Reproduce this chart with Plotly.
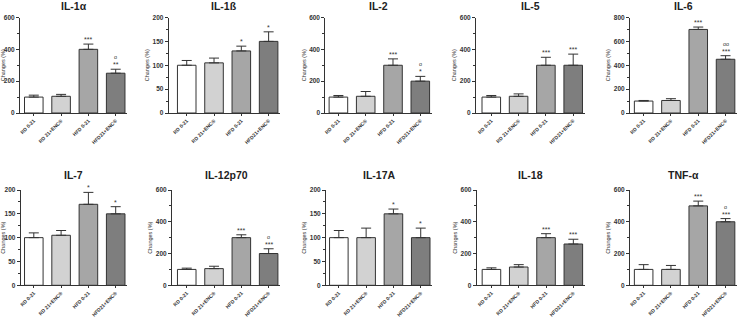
import plotly.graph_objects as go

W, H = 740, 318

groups = ["RD 0-21", "RD 21+ENC®", "HFD 0-21", "HFD21+ENC®"]
titles = ["IL-1α", "IL-1ß", "IL-2", "IL-5", "IL-6",
          "IL-7", "IL-12p70", "IL-17A", "IL-18", "TNF-α"]

# mean values (% change) per cytokine
il1a_mean = [100, 105, 400, 250]
il1b_mean = [100, 105, 130, 150]
il2_mean = [100, 105, 300, 200]
il5_mean = [100, 105, 300, 300]
il6_mean = [100, 105, 700, 450]
il7_mean = [100, 105, 170, 150]
il12_mean = [100, 105, 300, 200]
il17_mean = [100, 100, 150, 100]
il18_mean = [100, 115, 300, 260]
tnf_mean = [100, 100, 500, 400]

# upper error bars
il1a_err = [12, 12, 33, 25]
il1b_err = [10, 10, 10, 20]
il2_err = [10, 30, 40, 30]
il5_err = [10, 15, 50, 70]
il6_err = [5, 15, 20, 30]
il7_err = [10, 10, 25, 15]
il12_err = [8, 15, 18, 30]
il17_err = [15, 20, 10, 20]
il18_err = [10, 15, 25, 30]
tnf_err = [30, 25, 30, 20]

# significance marks (vs RD) and (vs HFD)
il1a_sig = ["", "", "***", "**"]
il1b_sig = ["", "", "*", "*"]
il2_sig = ["", "", "***", "*"]
il5_sig = ["", "", "***", "***"]
il6_sig = ["", "", "***", "***"]
il7_sig = ["", "", "*", "*"]
il12_sig = ["", "", "***", "***"]
il17_sig = ["", "", "*", "*"]
il18_sig = ["", "", "***", "***"]
tnf_sig = ["", "", "***", "***"]

il1a_sig2 = ["", "", "", "o"]
il1b_sig2 = ["", "", "", ""]
il2_sig2 = ["", "", "", "o"]
il5_sig2 = ["", "", "", ""]
il6_sig2 = ["", "", "", "oo"]
il7_sig2 = ["", "", "", ""]
il12_sig2 = ["", "", "", "o"]
il17_sig2 = ["", "", "", ""]
il18_sig2 = ["", "", "", ""]
tnf_sig2 = ["", "", "", "o"]

y_max = [600, 200, 600, 600, 800, 200, 600, 200, 600, 600]
y_dtick = [200, 50, 200, 200, 200, 50, 200, 50, 200, 200]

means = [il1a_mean, il1b_mean, il2_mean, il5_mean, il6_mean,
         il7_mean, il12_mean, il17_mean, il18_mean, tnf_mean]
errs = [il1a_err, il1b_err, il2_err, il5_err, il6_err,
        il7_err, il12_err, il17_err, il18_err, tnf_err]
sigs = [il1a_sig, il1b_sig, il2_sig, il5_sig, il6_sig,
        il7_sig, il12_sig, il17_sig, il18_sig, tnf_sig]
sigs2 = [il1a_sig2, il1b_sig2, il2_sig2, il5_sig2, il6_sig2,
         il7_sig2, il12_sig2, il17_sig2, il18_sig2, tnf_sig2]

bar_colors = ["#ffffff", "#d2d2d2", "#a6a6a6", "#7e7e7e"]
ink = "#333333"
FONT = "Liberation Sans, Arial, sans-serif"

# layout in pixels: (axis left px, range start)
panel_x = [(20, -0.505), (168.7, -0.66), (325.3, -0.48), (476, -0.56), (630, -0.5),
           (20.7, -0.48), (172, -0.54), (326, -0.47), (476.7, -0.54), (630, -0.5)]
row_y = [(17.5, 113.0, 5.5), (190.0, 285.3, 175.0)]  # top, bottom, title center
PX_UNIT = 27.3
X_END = 3.42

fig = go.Figure()
layout = dict(width=W, height=H, margin=dict(l=0, r=0, t=0, b=0, autoexpand=False),
              paper_bgcolor="white", plot_bgcolor="white", showlegend=False,
              font=dict(family=FONT, color=ink))
annotations = []

for i in range(10):
    r = i // 5
    ax = "" if i == 0 else str(i + 1)
    left, start = panel_x[i]
    right = left + (X_END - start) * PX_UNIT
    top, bottom, tcy = row_y[r]

    fig.add_trace(go.Bar(
        x=[0, 1, 2, 3], y=means[i], width=0.68,
        marker=dict(color=bar_colors, line=dict(color=ink, width=1)),
        error_y=dict(type="data", array=errs[i], arrayminus=[0, 0, 0, 0],
                     symmetric=False, color=ink, thickness=1, width=5),
        xaxis="x" + ax, yaxis="y" + ax, hoverinfo="skip"))

    layout["xaxis" + ax] = dict(
        domain=[left / W, right / W], range=[start, X_END], anchor="y" + ax,
        tickvals=[0, 1, 2, 3], ticktext=groups, tickangle=-45, automargin=False,
        tickfont=dict(size=5, weight="bold", family=FONT, color=ink),
        showline=True, linecolor=ink, linewidth=1, ticks="outside", ticklen=2,
        tickcolor=ink, showgrid=False, zeroline=False, fixedrange=True)
    layout["yaxis" + ax] = dict(
        domain=[(H - bottom) / H, (H - top) / H], range=[0, y_max[i]],
        anchor="x" + ax, dtick=y_dtick[i], tick0=0, automargin=False,
        tickfont=dict(size=6.5, weight="bold", family=FONT, color=ink),
        showline=True, linecolor=ink, linewidth=1, ticks="outside", ticklen=3,
        tickcolor=ink, showgrid=False, zeroline=False, fixedrange=True,
        minor=dict(ticks="outside", ticklen=2, dtick=y_dtick[i] / 2, tickcolor=ink),
        title=dict(text="Changes (%)", font=dict(size=5.5, family=FONT, color=ink),
                   standoff=2))

    annotations.append(dict(
        text="<b>" + titles[i] + "</b>", x=(left + right) / 2 / W,
        y=(H - tcy) / H, xref="paper", yref="paper", showarrow=False,
        xanchor="center", yanchor="middle",
        font=dict(size=10.5, family=FONT, color="#222")))

    for j in range(4):
        ytop = means[i][j] + errs[i][j]
        if sigs[i][j]:
            annotations.append(dict(
                text=sigs[i][j], x=j, y=ytop, xref="x" + ax, yref="y" + ax,
                showarrow=False, xanchor="center", yanchor="bottom", yshift=-1,
                font=dict(size=7, family=FONT, color=ink)))
        if sigs2[i][j]:
            annotations.append(dict(
                text=sigs2[i][j], x=j, y=ytop, xref="x" + ax, yref="y" + ax,
                showarrow=False, xanchor="center", yanchor="bottom", yshift=7,
                font=dict(size=5.5, family=FONT, color=ink)))

layout["annotations"] = annotations
fig.update_layout(**layout)
fig.write_html("out.html", config={"staticPlot": True},
               post_script="document.body.style.margin='0';document.body.style.padding='0';")
